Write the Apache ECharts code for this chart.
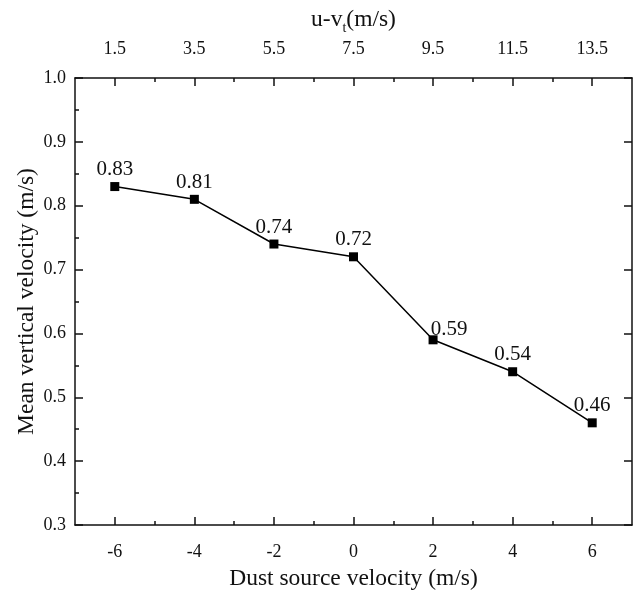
<!DOCTYPE html>
<html>
<head>
<meta charset="utf-8">
<script src="https://cdn.jsdelivr.net/npm/echarts@6/dist/echarts.min.js"></script>
<style>html,body{margin:0;padding:0;background:#fff}#c{width:636px;height:591px}</style>
</head>
<body>
<div id="c"></div>
<script>
const dustVelocity = [-6, -4, -2, 0, 2, 4, 6];
const meanVertical = [0.83, 0.81, 0.74, 0.72, 0.59, 0.54, 0.46];
const topTickLabels = ['1.5', '3.5', '5.5', '7.5', '9.5', '11.5', '13.5'];
const bottomMinorTicks = [-5, -3, -1, 1, 3, 5];

const FONT = "'Liberation Serif', 'Times New Roman', serif";
const INK = '#111';
const chart = echarts.init(document.getElementById('c'), null, {renderer: 'canvas'});

const lineStyle = {color: INK, width: 1.5};
function baseX(pos, extra) {
  return Object.assign({
    type: 'value', position: pos, min: -7, max: 7,
    splitLine: {show: false},
    axisLine: {show: true, onZero: false, lineStyle: lineStyle},
  }, extra);
}

const option = {
  animation: false,
  grid: {left: 75, right: 4, top: 78, bottom: 66, containLabel: false, outerBoundsMode: 'none'},
  xAxis: [
    baseX('bottom', {
      name: 'Dust source velocity (m/s)', nameLocation: 'middle', nameGap: 42,
      nameTextStyle: {fontFamily: FONT, fontSize: 23.5, color: INK},
      axisTick: {show: true, inside: true, length: 8, lineStyle: lineStyle, customValues: dustVelocity},
      axisLabel: {show: true, margin: 18, fontFamily: FONT, fontSize: 18, color: INK, customValues: dustVelocity}
    }),
    baseX('bottom', {
      axisLine: {show: false},
      axisTick: {show: true, inside: true, length: 4, lineStyle: lineStyle, customValues: bottomMinorTicks},
      axisLabel: {show: false}
    }),
    baseX('top', {
      name: 'u-v{sub|t}(m/s)', nameLocation: 'middle', nameGap: 43,
      nameTextStyle: {fontFamily: FONT, fontSize: 23.5, color: INK,
        rich: {sub: {fontFamily: FONT, fontSize: 14, color: INK, verticalAlign: 'bottom', padding: [16, 0, 0, 0]}}},
      axisTick: {show: true, inside: true, length: 8, lineStyle: lineStyle, customValues: dustVelocity},
      axisLabel: {show: true, margin: 20, fontFamily: FONT, fontSize: 18, color: INK, customValues: dustVelocity,
        formatter: function (v) { const i = dustVelocity.indexOf(Math.round(v)); return i >= 0 ? topTickLabels[i] : ''; }}
    }),
    baseX('top', {
      axisLine: {show: false},
      axisTick: {show: true, inside: true, length: 4, lineStyle: lineStyle, customValues: bottomMinorTicks},
      axisLabel: {show: false}
    })
  ],
  yAxis: [
    {
      type: 'value', position: 'left', min: 0.3, max: 1.0, interval: 0.1,
      name: 'Mean vertical velocity (m/s)', nameLocation: 'middle', nameGap: 36, nameMoveOverlap: false,
      nameTextStyle: {fontFamily: FONT, fontSize: 23.5, color: INK},
      splitLine: {show: false},
      axisLine: {show: true, onZero: false, lineStyle: lineStyle},
      axisTick: {show: true, inside: true, length: 8, lineStyle: lineStyle},
      minorTick: {show: true, splitNumber: 2, length: 4, lineStyle: lineStyle},
      axisLabel: {margin: 9, fontFamily: FONT, fontSize: 18, color: INK, formatter: v => v.toFixed(1)}
    },
    {
      type: 'value', position: 'right', min: 0.3, max: 1.0, interval: 0.1,
      splitLine: {show: false},
      axisLine: {show: true, onZero: false, lineStyle: lineStyle},
      axisTick: {show: true, inside: true, length: 8, lineStyle: lineStyle},
      axisLabel: {show: false}
    }
  ],
  series: [{
    type: 'line', xAxisIndex: 0, yAxisIndex: 0,
    data: dustVelocity.map((x, i) => {
      const d = {value: [x, meanVertical[i]]};
      if (meanVertical[i] === 0.59) d.label = {offset: [16, 7]};
      return d;
    }),
    symbol: 'rect', symbolSize: 9,
    itemStyle: {color: '#000'},
    lineStyle: {color: '#000', width: 1.5},
    label: {show: true, position: 'top', distance: 2, fontFamily: FONT, fontSize: 21, color: INK,
      formatter: p => p.value[1].toFixed(2)}
  }]
};
chart.setOption(option);
</script>
</body>
</html>
